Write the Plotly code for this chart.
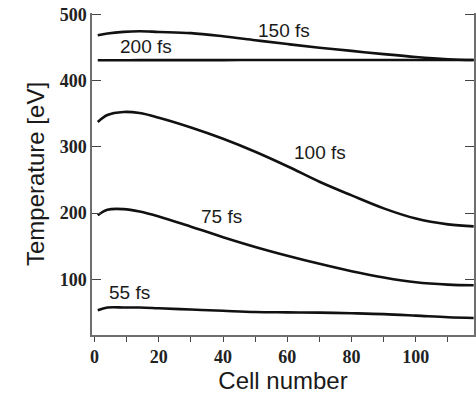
import plotly.graph_objects as go

cells = [1, 4, 9, 14, 20, 30, 40, 50, 60, 70, 80, 90, 100, 110, 118]
t_150fs = [468.3, 471.0, 473.5, 474.4, 473.4, 471.6, 466.8, 460.9, 455.1, 449.6, 444.8, 439.9, 435.5, 432.3, 431.0]
t_200fs = [430.6, 430.6, 430.7, 430.8, 430.8, 430.9, 430.9, 431.0, 431.0, 431.0, 431.0, 431.0, 431.0, 431.0, 431.0]
t_100fs = [337.5, 348.0, 352.6, 351.0, 344.0, 329.3, 312.2, 292.6, 270.7, 247.3, 226.7, 207.1, 191.7, 183.0, 180.0]
t_75fs = [196.7, 205.0, 206.0, 202.5, 195.0, 179.5, 163.7, 149.0, 135.7, 123.5, 112.3, 102.8, 95.5, 92.0, 91.0]
t_55fs = [53.3, 57.4, 57.6, 57.4, 56.3, 54.4, 52.5, 50.7, 50.2, 49.8, 48.8, 47.5, 45.2, 42.7, 41.7]

series = [("150 fs", t_150fs), ("200 fs", t_200fs), ("100 fs", t_100fs),
          ("75 fs", t_75fs), ("55 fs", t_55fs)]

label_text = ["150 fs", "200 fs", "100 fs", "75 fs", "55 fs"]
label_x = [59, 16, 70.3, 39.6, 11]
label_y = [476, 451, 291, 195.5, 80]

x_tickvals = [0, 10, 20, 30, 40, 50, 60, 70, 80, 90, 100, 110]
x_ticktext = ["0", "", "20", "", "40", "", "60", "", "80", "", "100", ""]

fig = go.Figure()
for name, vals in series:
    fig.add_trace(go.Scatter(x=cells, y=vals, mode="lines", name=name,
                             line=dict(color="#111111", width=2.6, shape="spline", smoothing=1.0),
                             showlegend=False))

for t, x, y in zip(label_text, label_x, label_y):
    fig.add_annotation(x=x, y=y, text=t, showarrow=False,
                       font=dict(family="Liberation Sans", size=19, color="#1a1a1a"))

axis_col = "#6e6e6e"
fig.update_xaxes(range=[-0.8, 118.1], showline=True, linecolor=axis_col, linewidth=1.5,
                 ticks="outside", ticklen=5, tickwidth=1, tickcolor="#444444",
                 tickmode="array", tickvals=x_tickvals, ticktext=x_ticktext,
                 showgrid=False, zeroline=False,
                 tickfont=dict(family="Liberation Serif", size=18, weight="bold", color="#222222"),
                 title=dict(text="Cell number", standoff=2,
                            font=dict(family="Liberation Sans", size=24, color="#1a1a1a")))
fig.update_yaxes(range=[16, 502], showline=True, linecolor=axis_col, linewidth=1.5,
                 mirror="ticks", ticks="inside", ticklen=9, tickwidth=1, tickcolor="#444444",
                 dtick=100, tick0=0,
                 showgrid=False, zeroline=False,
                 tickfont=dict(family="Liberation Serif", size=18, weight="bold", color="#222222"),
                 title=dict(text="Temperature [eV]", standoff=8,
                            font=dict(family="Liberation Sans", size=24, color="#1a1a1a")))

fig.update_layout(width=476, height=396, margin=dict(l=92, r=0, t=13, b=61),
                  paper_bgcolor="white", plot_bgcolor="white")

fig.write_html("out.html")
